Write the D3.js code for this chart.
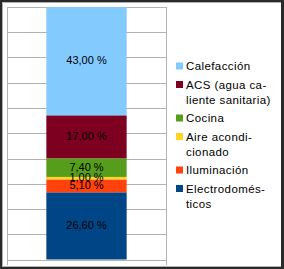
<!DOCTYPE html>
<html>
<head>
<meta charset="utf-8">
<script src="https://cdn.jsdelivr.net/npm/d3@7"></script>
<style>
  body { margin: 0; background: #fff; }
  svg { display: block; font-family: "Liberation Sans", Arial, sans-serif; }
</style>
</head>
<body>
<svg id="chart" width="284" height="269"></svg>
<script>
// stacked from bottom to top
const categories = ["Electrodomésticos", "Iluminación", "Aire acondicionado", "Cocina", "ACS (agua caliente sanitaria)", "Calefacción"];
const values = [26.6, 5.1, 1.0, 7.4, 17.0, 43.0];
const colors = ["#004586", "#ff420e", "#ffd320", "#579d1c", "#7e0021", "#83caff"];
const legendLines = [["Electrodomés-", "ticos"], ["Iluminación"], ["Aire acondi-", "cionado"], ["Cocina"], ["ACS (agua ca-", "liente sanitaria)"], ["Calefacción"]];
const yTicks = d3.range(0, 101, 10);

const W = 284, H = 269;
const plot = {left: 7, right: 166, top: 7, bottom: 259.5};

const svg = d3.select("#chart");

// frame
svg.append("rect").attr("width", W).attr("height", H).attr("fill", "#2a2a2a");
svg.append("rect").attr("x", 2).attr("y", 2).attr("width", 279).attr("height", 265).attr("fill", "#fff");
svg.append("path").attr("d", "M2.5,267V2.5H281").attr("stroke", "#b0b0b0").attr("fill", "none");
svg.append("path").attr("d", "M2.5,266.5H281").attr("stroke", "#b0b0b0").attr("fill", "none");

const y = d3.scaleLinear().domain([0, 100]).range([plot.bottom, plot.top]);
const x = d3.scaleBand().domain(["s"]).range([plot.left, plot.right]).paddingInner(0).paddingOuter(0.49);

// gridlines
svg.append("g").selectAll("line").data(yTicks).join("line")
  .attr("x1", plot.left).attr("x2", plot.right)
  .attr("y1", d => Math.round(y(d)) + 0.5).attr("y2", d => Math.round(y(d)) + 0.5)
  .attr("stroke", "#b3b3b3");

// axes lines
svg.append("line").attr("x1", plot.left + 0.5).attr("x2", plot.left + 0.5)
  .attr("y1", plot.top).attr("y2", 265).attr("stroke", "#b3b3b3");
svg.append("line").attr("x1", plot.right + 0.5).attr("x2", plot.right + 0.5)
  .attr("y1", plot.top).attr("y2", 265).attr("stroke", "#b3b3b3");

// stack
let acc = 0;
const segs = values.map((v, i) => {
  const s = {name: categories[i], v, y0: acc, y1: acc + v, color: colors[i]};
  acc += v;
  return s;
});

svg.append("g").selectAll("rect").data(segs).join("rect")
  .attr("x", x("s")).attr("width", x.bandwidth())
  .attr("y", d => y(Math.min(d.y1, 100)))
  .attr("height", d => y(d.y0) - y(Math.min(d.y1, 100)))
  .attr("fill", d => d.color);

const fmt = v => d3.format(".2f")(v).replace(".", ",") + " %";
svg.append("g").selectAll("text").data(segs).join("text")
  .attr("x", x("s") + x.bandwidth() / 2)
  .attr("y", d => (y(d.y0) + y(Math.min(d.y1, 100))) / 2 - 1)
  .attr("text-anchor", "middle").attr("dominant-baseline", "central")
  .attr("font-size", "11px").attr("fill", "#000")
  .text(d => fmt(d.v));

// legend (top to bottom = reverse of stack)
const leg = svg.append("g");
let ly = 66;
for (let i = categories.length - 1; i >= 0; i--) {
  const lines = legendLines[i];
  leg.append("rect").attr("x", 176).attr("y", ly - 3.5).attr("width", 7).attr("height", 7).attr("fill", colors[i]);
  const t = leg.append("text").attr("x", 186).attr("y", ly).attr("dominant-baseline", "central")
    .attr("font-size", "11.5px").attr("letter-spacing", "0.4px").attr("fill", "#000");
  lines.forEach((l, j) => t.append("tspan").attr("x", 186).attr("dy", j === 0 ? 0 : 15).text(l));
  ly += (lines.length - 1) * 15 + 18.5;
}
</script>
</body>
</html>
